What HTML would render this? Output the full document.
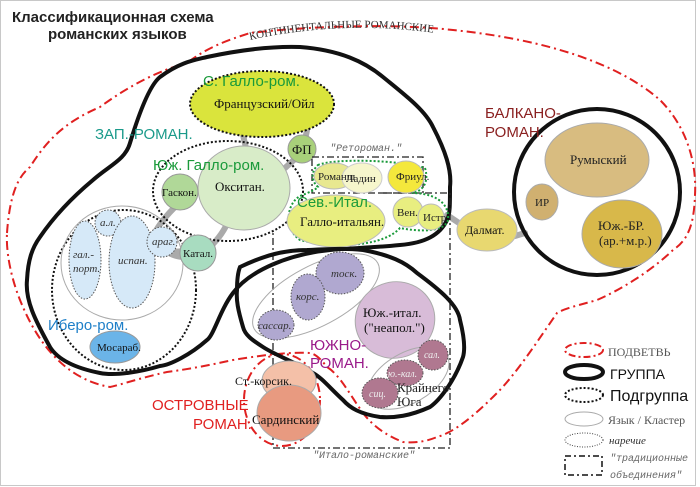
<!DOCTYPE html>
<html><head><meta charset="utf-8"><style>
html,body{margin:0;padding:0;background:#fff}
svg{display:block}
.s{font-family:"Liberation Sans",sans-serif}
.r{font-family:"Liberation Serif",serif}
.m{font-family:"Liberation Mono",monospace;font-style:italic;fill:#666}
</style></head><body>
<svg width="700" height="487" viewBox="0 0 700 487" xmlns="http://www.w3.org/2000/svg">
<rect x="0.5" y="0.5" width="695" height="485" fill="#fff" stroke="#c8c8c8"/>
<text class="s" x="12" y="22" font-size="15" font-weight="bold" fill="#222">Классификационная схема</text>
<text class="s" x="48" y="39" font-size="15" font-weight="bold" fill="#222">романских языков</text>

<!-- continental red dash-dot -->
<path d="M7,233 C10,190 20,175 30,167 C50,135 70,120 100,107 C130,85 160,70 187,63 C210,45 235,38 250,33 C320,25 400,24 453,30 C550,40 620,65 660,100 C685,125 697,160 695,195 C694,225 688,240 673,250 C650,272 620,290 597,300 C580,305 565,308 557,313 C535,345 515,375 497,393 C475,415 455,432 437,437 C425,442 415,443 403,442 C385,435 372,425 363,413 C350,395 340,375 327,367 C320,358 315,354 310,353 C290,352 270,354 233,360 C210,365 190,369 167,372 C140,378 120,385 110,387 C70,380 40,350 20,300 C10,275 6,250 7,233 Z" fill="none" stroke="#e02020" stroke-width="2" stroke-dasharray="9,4,2,4"/>
<path id="arc" d="M250,40 Q350,18 455,36" fill="none"/>
<text class="r" font-size="11" fill="#333"><textPath href="#arc">КОНТИНЕНТАЛЬНЫЕ РОМАНСКИЕ</textPath></text>
<!-- island ellipse -->
<ellipse cx="282" cy="400" rx="38" ry="46" fill="none" stroke="#e02020" stroke-width="2" stroke-dasharray="9,4,2,4"/>

<!-- gray connectors -->
<g stroke="#aaa" stroke-width="6" fill="none" stroke-linecap="round">
<path d="M243,135 L246,148"/>
<path d="M307,130 L305,140"/>
<path d="M296,158 L285,168"/>
<path d="M174,208 C160,222 155,232 152,238"/>
<path d="M228,222 C222,235 215,242 210,247"/>
<path d="M447,215 L462,225"/>
<path d="M515,236 L525,233"/>
</g>
<path d="M160,250 C170,260 185,262 195,258 L190,246 C180,250 170,248 160,250Z" fill="#aaa"/>

<!-- Western group -->
<path d="M93,180 C110,165 125,160 130,143 C140,110 150,85 160,77 C180,62 195,60 207,57 C240,50 270,46 300,47 C340,50 365,62 383,77 C405,95 425,110 433,127 C445,150 452,170 450,187 C450,205 450,215 447,220 C440,235 425,243 400,245 C370,248 350,248 330,250 C290,254 250,270 233,293 C220,310 214,335 207,340 C190,355 170,365 160,366 C140,372 115,376 100,373 C75,368 58,360 50,347 C35,320 25,300 27,280 C28,260 32,248 40,237 C55,215 75,195 93,180 Z" fill="none" stroke="#111" stroke-width="4"/>
<text class="s" x="95" y="139" font-size="15" fill="#1a9a8a">ЗАП.-РОМАН.</text>

<!-- Oil -->
<ellipse cx="262" cy="104" rx="72" ry="33" fill="#dae43c" stroke="#111" stroke-width="2" stroke-dasharray="2,2"/>
<text class="s" x="203" y="86" font-size="15" fill="#1a9a3a">С. Галло-ром.</text>
<text class="r" x="214" y="108" font-size="13" fill="#111">Французский/Ойл</text>
<circle cx="302" cy="149" r="14" fill="#a8d07a" stroke="#999"/>
<text class="r" x="292" y="154" font-size="13" fill="#111">ФП</text>

<!-- South Gallo -->
<ellipse cx="228" cy="191" rx="75" ry="50" fill="none" stroke="#111" stroke-width="2" stroke-dasharray="2,2"/>
<ellipse cx="244" cy="188" rx="46" ry="42" fill="#d8ecc8" stroke="#aaa"/>
<text class="s" x="153" y="170" font-size="15" fill="#1a9a3a">Юж. Галло-ром.</text>
<text class="r" x="215" y="191" font-size="13" fill="#111">Окситан.</text>
<circle cx="180" cy="192" r="18" fill="#b0d898" stroke="#999"/>
<text class="r" x="162" y="196" font-size="11" fill="#111">Гаскон.</text>

<!-- Ibero -->
<ellipse cx="124" cy="290" rx="72" ry="80" fill="none" stroke="#111" stroke-width="2" stroke-dasharray="2,2"/>
<ellipse cx="122" cy="263" rx="61" ry="57" fill="none" stroke="#aaa"/>
<g fill="#d6e9f8" stroke="#555" stroke-dasharray="1.5,1.5">
<ellipse cx="85" cy="260" rx="16" ry="39"/>
<circle cx="108" cy="223" r="13"/>
<ellipse cx="132" cy="262" rx="23" ry="46"/>
<circle cx="162" cy="242" r="15"/>
</g>
<g class="r" font-style="italic" font-size="11" fill="#333">
<text x="73" y="258">гал.-</text><text x="73" y="272">порт.</text>
<text x="100" y="226">а.л.</text>
<text x="118" y="264">испан.</text>
<text x="152" y="245">араг.</text>
</g>
<circle cx="198" cy="253" r="18" fill="#a8dcc0" stroke="#999"/>
<text class="r" x="183" y="257" font-size="11" fill="#111">Катал.</text>
<text class="s" x="48" y="330" font-size="15" fill="#1e7fc8">Ибеpo-ром.</text>
<ellipse cx="115" cy="347" rx="25" ry="16" fill="#6bb4e8" stroke="#999"/>
<text class="r" x="97" y="351" font-size="11" fill="#111">Мосараб.</text>

<!-- Retoroman & Italo dash-dot boxes -->
<g fill="none" stroke="#222" stroke-width="1.3" stroke-dasharray="7,3,2,3">
<rect x="312" y="157" width="111" height="36"/>
<path d="M380,193 L450,193 L450,448 L273,448 L273,232"/>
</g>
<text class="m" x="330" y="151" font-size="10">"Ретороман."</text>
<text class="m" x="313" y="458" font-size="10">"Итало-романские"</text>

<!-- North Ital -->
<path d="M318,165 C335,158 400,160 425,168 C430,185 420,192 412,193 C430,193 450,200 448,220 C445,232 420,232 400,228 C385,245 340,250 300,240 C285,230 285,205 300,196 C310,192 315,190 318,187 C310,180 312,170 318,165Z" fill="none" stroke="#1a9a3a" stroke-width="2" stroke-dasharray="2,2"/>
<ellipse cx="334" cy="176" rx="20" ry="13" fill="#e8e890" stroke="#bbb"/>
<ellipse cx="362" cy="178" rx="20" ry="15" fill="#f6f6cc" stroke="#ccc"/>
<ellipse cx="406" cy="177" rx="18" ry="16" fill="#f4e83c" stroke="#bbb"/>
<text class="r" x="318" y="180" font-size="11" fill="#222">Романш</text>
<text class="r" x="346" y="182" font-size="11" fill="#222">Ладин</text>
<text class="r" x="396" y="180" font-size="11" fill="#222">Фриул.</text>
<ellipse cx="336" cy="221" rx="49" ry="26" fill="#e8ee80" stroke="#bbb"/>
<text class="s" x="297" y="207" font-size="15" fill="#1a9a3a">Сев.-Итал.</text>
<text class="r" x="300" y="226" font-size="13" fill="#111">Галло-итальян.</text>
<circle cx="408" cy="212" r="15" fill="#e8ee80" stroke="#bbb"/>
<circle cx="431" cy="217" r="13" fill="#e8ee80" stroke="#bbb"/>
<text class="r" x="397" y="216" font-size="11" fill="#222">Вен.</text>
<text class="r" x="423" y="221" font-size="11" fill="#222">Истр</text>

<!-- Balkan -->
<ellipse cx="487" cy="230" rx="30" ry="21" fill="#e8d870" stroke="#bbb"/>
<text class="r" x="465" y="234" font-size="12" fill="#111">Далмат.</text>
<circle cx="597" cy="192" r="83" fill="none" stroke="#111" stroke-width="4"/>
<ellipse cx="597" cy="160" rx="52" ry="37" fill="#d8bc80" stroke="#aaa"/>
<text class="r" x="570" y="164" font-size="13" fill="#222">Румыский</text>
<ellipse cx="542" cy="202" rx="16" ry="18" fill="#d0b070" stroke="#aaa"/>
<text class="r" x="535" y="206" font-size="11" fill="#222">ИР</text>
<ellipse cx="622" cy="234" rx="40" ry="34" fill="#d8b84a" stroke="#aaa"/>
<text class="r" x="598" y="230" font-size="13" fill="#222">Юж.-БР.</text>
<text class="r" x="599" y="245" font-size="13" fill="#222">(ар.+м.р.)</text>
<text class="s" x="485" y="118" font-size="15" fill="#8a2020">БАЛКАНО-</text>
<text class="s" x="485" y="137" font-size="15" fill="#8a2020">РОМАН.</text>

<!-- Southern group -->
<path d="M240,267 C265,255 285,250 307,250 C330,249 345,248 363,250 C390,255 405,262 417,273 C440,290 458,305 460,320 C465,340 465,350 463,357 C455,380 440,400 430,407 C410,416 395,418 380,417 C360,414 350,408 343,400 C330,388 322,378 313,373 C295,362 275,355 263,347 C252,340 245,335 243,327 C238,310 236,300 237,290 C237,280 238,272 240,267 Z" fill="none" stroke="#111" stroke-width="4"/>
<ellipse cx="316" cy="296" rx="70" ry="30" transform="rotate(-28 316 296)" fill="none" stroke="#aaa"/>
<g fill="#b0a8d0" stroke="#555" stroke-dasharray="1.5,1.5">
<ellipse cx="340" cy="273" rx="24" ry="21"/>
<ellipse cx="308" cy="297" rx="17" ry="23"/>
<ellipse cx="276" cy="325" rx="18" ry="15"/>
</g>
<g class="r" font-style="italic" font-size="11" fill="#333">
<text x="331" y="277">тоск.</text><text x="296" y="300">корс.</text><text x="258" y="329">сассар.</text>
</g>
<ellipse cx="395" cy="320" rx="40" ry="38" transform="rotate(-20 395 320)" fill="#d8bcd8" stroke="#aaa"/>
<text class="r" x="363" y="317" font-size="13" fill="#111">Юж.-итал.</text>
<text class="r" x="364" y="332" font-size="13" fill="#111">("неапол.")</text>
<text class="s" x="310" y="350" font-size="15" fill="#9a1a8a">ЮЖНО-</text>
<text class="s" x="310" y="368" font-size="15" fill="#9a1a8a">РОМАН.</text>
<ellipse cx="408" cy="378" rx="45" ry="25" transform="rotate(-30 408 378)" fill="none" stroke="#aaa"/>
<g fill="#b07890" stroke="#555" stroke-dasharray="1.5,1.5">
<circle cx="433" cy="355" r="15"/><ellipse cx="405" cy="373" rx="18" ry="13"/><ellipse cx="380" cy="393" rx="18" ry="15"/>
</g>
<g class="r" font-style="italic" font-size="10" fill="#eee">
<text x="424" y="358">сал.</text><text x="388" y="377">ю.-кал.</text><text x="369" y="397">сиц.</text>
</g>
<text class="r" x="397" y="392" font-size="13" fill="#222">Крайнего</text>
<text class="r" x="397" y="406" font-size="13" fill="#222">Юга</text>

<!-- Islands -->
<ellipse cx="289" cy="381" rx="27" ry="20" fill="#f4c0a8" stroke="#aaa"/>
<ellipse cx="289" cy="413" rx="32" ry="28" fill="#e89a80" stroke="#aaa"/>
<text class="r" x="235" y="385" font-size="12" fill="#111">Ст.-корсик.</text>
<text class="r" x="252" y="424" font-size="13" fill="#111">Сардинский</text>
<text class="s" x="152" y="410" font-size="15" fill="#e02020">ОСТРОВНЫЕ</text>
<text class="s" x="193" y="429" font-size="15" fill="#e02020">РОМАН.</text>

<!-- Legend -->
<ellipse cx="584" cy="350" rx="19" ry="7" fill="none" stroke="#e02020" stroke-width="2" stroke-dasharray="7,3,2,3"/>
<text class="r" x="608" y="356" font-size="12" fill="#555">ПОДВЕТВЬ</text>
<ellipse cx="584" cy="372" rx="19" ry="7" fill="none" stroke="#111" stroke-width="4"/>
<text class="s" x="610" y="379" font-size="14" fill="#111">ГРУППА</text>
<ellipse cx="584" cy="395" rx="19" ry="7" fill="none" stroke="#111" stroke-width="2" stroke-dasharray="2,2"/>
<text class="s" x="610" y="401" font-size="16" fill="#111">Подгруппа</text>
<ellipse cx="584" cy="419" rx="19" ry="7" fill="none" stroke="#aaa"/>
<text class="r" x="608" y="424" font-size="12" fill="#555">Язык / Кластер</text>
<ellipse cx="584" cy="440" rx="19" ry="7" fill="none" stroke="#444" stroke-dasharray="1,1.5"/>
<text class="r" x="609" y="444" font-size="11" font-style="italic" fill="#333">наречие</text>
<rect x="565" y="456" width="37" height="19" fill="none" stroke="#111" stroke-width="1.5" stroke-dasharray="6,3,2,3"/>
<text class="m" x="610" y="461" font-size="10" fill="#999">"традиционные</text>
<text class="m" x="610" y="478" font-size="10" fill="#999">объединения"</text>
</svg>
</body></html>
